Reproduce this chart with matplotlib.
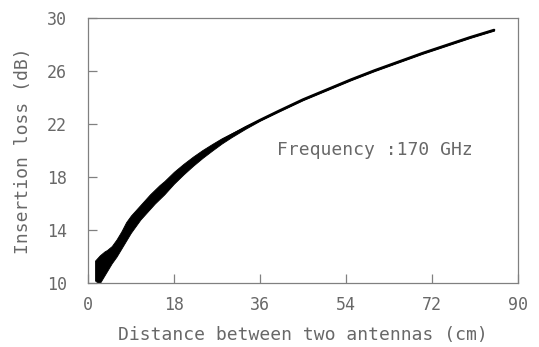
import matplotlib
matplotlib.use("Agg")
import matplotlib.pyplot as plt

# measured insertion loss trace: upper / lower edge of the (noisy) band
distance_cm = [1.5, 2.0, 2.5, 3.0, 3.5, 4.0, 5.0, 6.0, 7.0, 8.0, 9.0, 10, 11, 12,
               13, 14, 15, 16, 18, 20, 22, 24, 26, 28, 30, 33, 36, 40, 45, 50,
               55, 60, 65, 70, 75, 80, 85]
loss_upper = [11.7, 11.9, 12.1, 12.25, 12.4, 12.5, 12.8, 13.3, 13.9, 14.6, 15.1,
              15.5, 15.9, 16.3, 16.7, 17.05, 17.4, 17.7, 18.4, 19.0, 19.55, 20.05,
              20.5, 20.93, 21.3, 21.85, 22.35, 23.05, 23.9, 24.65, 25.4, 26.1,
              26.75, 27.4, 28.0, 28.6, 29.15]
loss_lower = [10.2, 10.05, 10.0, 10.3, 10.6, 10.9, 11.5, 12.0, 12.6, 13.2, 13.8,
              14.3, 14.8, 15.2, 15.6, 16.0, 16.35, 16.7, 17.5, 18.2, 18.85, 19.45,
              20.0, 20.53, 21.0, 21.65, 22.25, 22.95, 23.8, 24.55, 25.3, 26.0,
              26.65, 27.3, 27.9, 28.5, 29.05]
loss_mid = [(u + l) / 2 for u, l in zip(loss_upper, loss_lower)]

x_ticks = [0, 18, 36, 54, 72, 90]
y_ticks = [10, 14, 18, 22, 26, 30]

GREY = "#686868"
FONT = "DejaVu Sans Mono"

fig = plt.figure(figsize=(5.39, 3.47), dpi=100)
ax = fig.add_axes([0.163, 0.184, 0.798, 0.764])

ax.fill_between(distance_cm, loss_lower, loss_upper, color="black", lw=0.6,
                edgecolor="black")
# the trace never gets thinner than ~2 px
ax.plot(distance_cm[4:], loss_mid[4:], color="black", lw=1.8,
        solid_capstyle="round")

ax.set_xlim(0, 90)
ax.set_ylim(10, 30)
ax.set_xticks(x_ticks)
ax.set_yticks(y_ticks)

for side in ax.spines.values():
    side.set_color("#808080")
    side.set_linewidth(0.9)

ax.tick_params(axis="both", direction="in", length=6.5, width=0.9, color="#808080",
               labelcolor=GREY, labelsize=12)
ax.tick_params(axis="x", pad=9.5)
ax.tick_params(axis="y", pad=15)
for lbl in ax.get_xticklabels() + ax.get_yticklabels():
    lbl.set_family(FONT)

ax.set_xlabel("Distance between two antennas (cm)", family=FONT, fontsize=13,
              color=GREY, labelpad=8.5)
ax.set_ylabel("Insertion loss (dB)", family=FONT, fontsize=13, color=GREY,
              labelpad=11)

ax.text(39.6, 20.05, "Frequency :170 GHz", family=FONT, fontsize=13, color=GREY,
        ha="left", va="center")

fig.savefig("out.png", dpi=100)
